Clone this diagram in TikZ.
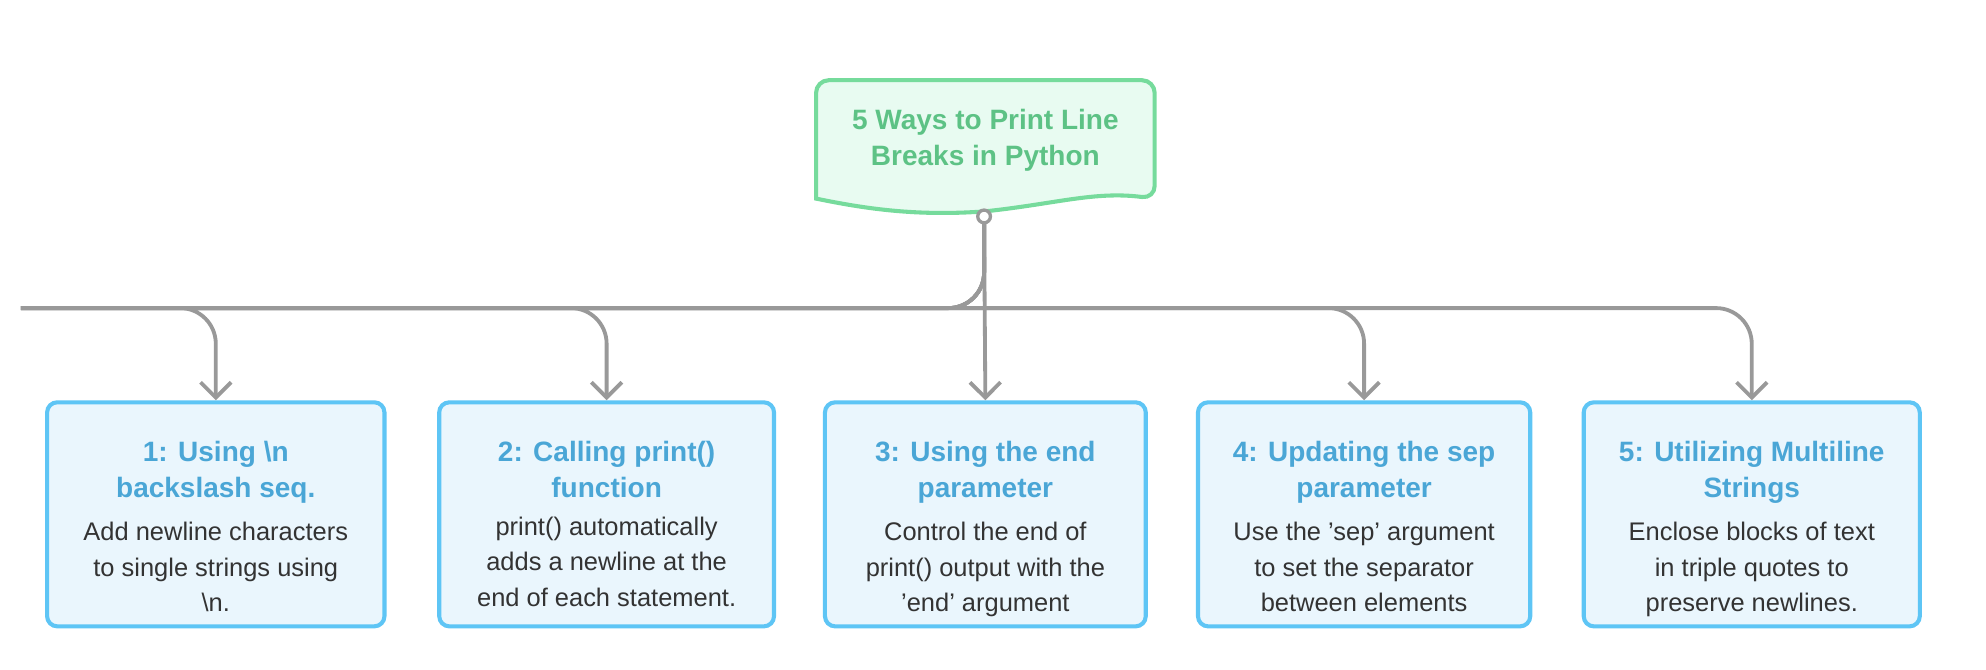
\documentclass[tikz,border=0pt]{standalone}
\usepackage{fontspec}
\setmainfont{Liberation Sans}
\usepackage{tikz}
\usetikzlibrary{positioning, arrows.meta}
\definecolor{grnline}{HTML}{76DB9C}
\definecolor{grnfill}{HTML}{E8FBF1}
\definecolor{grntext}{HTML}{5DC285}
\definecolor{bluline}{HTML}{5EC5F5}
\definecolor{blufill}{HTML}{EAF6FD}
\definecolor{blutext}{HTML}{4AA6D6}
\definecolor{conn}{HTML}{999999}

\begin{document}
\begin{tikzpicture}[
    x=0.5pt, y=-0.5pt,
    waybox/.style={rectangle, draw=bluline, fill=blufill, line width=1.6pt, rounded corners=4pt, minimum height=88pt, inner sep=0pt},
    waytitle/.style={align=center, font=\bfseries\fontsize{11}{14}\selectfont, text=blutext, inner sep=0pt},
    waybody/.style={align=center, font=\fontsize{10}{14}\selectfont, text=black!80, inner sep=0pt},
    link/.style={draw=conn, line width=1.5pt, rounded corners=14pt, -{Straight Barb[length=6pt, width=12pt, line width=1.5pt]}}
]
\useasboundingbox (0,0) rectangle (1560,526);

% Top node
\draw[draw=grnline, fill=grnfill, line width=1.6pt, rounded corners=5pt]
    (641,156) -- (641,63) -- (907,63) -- (907,156) [sharp corners]
    .. controls (860,150) and (830,160) .. (774,166)
    .. controls (720,170) and (680,164) .. (641,156) -- cycle;
\node[font=\bfseries\fontsize{11}{14}\selectfont, text=grntext, align=center] (top) at (774,110) {5 Ways to Print Line\\Breaks in Python};
\coordinate (hub) at (773,175);

% Boxes
\node[waybox, minimum width=132.5pt] (b1) at (169.5,404) {};
\node[waybox, minimum width=131.5pt] (b2) at (476.5,404) {};
\node[waybox, minimum width=126pt] (b3) at (774,404) {};
\node[waybox, minimum width=130.5pt] (b4) at (1071.5,404) {};
\node[waybox, minimum width=132pt] (b5) at (1376,404) {};

\node[waytitle, below=16pt of b1.north] (t1) {1: Using \textbackslash n\\backslash seq.};
\node[waytitle, below=16pt of b2.north] (t2) {2: Calling print()\\function};
\node[waytitle, below=16pt of b3.north] (t3) {3: Using the end\\parameter};
\node[waytitle, below=16pt of b4.north] (t4) {4: Updating the sep\\parameter};
\node[waytitle, below=16pt of b5.north] (t5) {5: Utilizing Multiline\\Strings};

\node[waybody, below=7pt of t1] (d1) {Add newline characters\\to single strings using\\\textbackslash n.};
\node[waybody, below=7pt of t2] (d2) {print() automatically\\adds a newline at the\\end of each statement.};
\node[waybody, below=7pt of t3] (d3) {Control the end of\\print() output with the\\'end' argument};
\node[waybody, below=7pt of t4] (d4) {Use the 'sep' argument\\to set the separator\\between elements};
\node[waybody, below=7pt of t5] (d5) {Enclose blocks of text\\in triple quotes to\\preserve newlines.};

% Connectors
\foreach \b in {b1,b2,b4,b5}
    \draw[link] (hub) |- (0,242) -| (\b.north);
\draw[link] (hub) -- (b3.north);
\draw[draw=conn, fill=white, line width=1.3pt] (hub) ++(0,-5) circle (5);
\end{tikzpicture}
\end{document}
